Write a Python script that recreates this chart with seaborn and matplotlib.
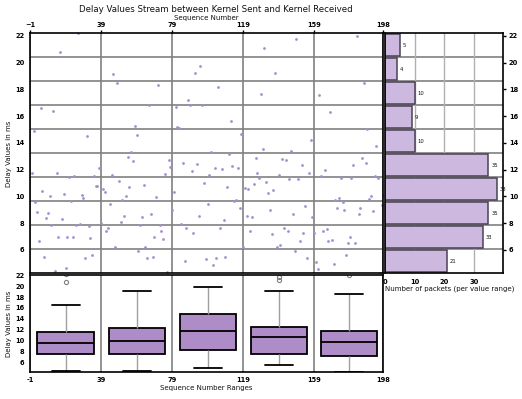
import matplotlib
matplotlib.use("Agg")
import matplotlib.pyplot as plt
import numpy as np
import pandas as pd
import seaborn as sns

# delay (ms) per sequence number, 0..199
delay_seg1 = [11.75, 14.9, 9.57, 8.82, 6.65, 16.6, 10.4, 5.48, 8.37, 8.75,
              10.03, 7.86, 16.37, 4.43, 11.78, 6.93, 20.78, 8.3, 10.2, 4.63,
              7.0, 11.45, 9.67, 7.0, 11.5, 7.9, 22.2, 7.95, 10.13, 9.85,
              5.38, 14.5, 7.77, 6.88, 5.6, 11.5, 10.8, 10.8, 12.1, 8.0]
delay_seg2 = [10.55, 10.3, 7.4, 7.65, 9.43, 11.63, 19.15, 6.23, 18.5, 11.15,
              8.12, 9.7, 8.57, 10.0, 12.93, 10.7, 13.3, 12.68, 15.25, 14.6,
              5.9, 7.86, 8.47, 10.85, 6.23, 5.37, 16.85, 8.7, 5.45, 6.98,
              9.98, 18.3, 7.86, 7.4, 6.83, 11.7, 4.37, 12.73, 12.2, 8.95]
delay_seg3 = [10.33, 16.7, 15.22, 15.15, 7.95, 12.5, 5.2, 7.65, 17.2, 16.85,
              11.93, 7.27, 19.2, 12.42, 8.57, 19.78, 16.87, 11.0, 5.3, 9.45,
              11.58, 13.3, 4.88, 12.13, 5.37, 18.2, 7.62, 12.03, 8.25, 5.5,
              10.7, 13.2, 15.65, 12.28, 9.65, 9.7, 12.15, 9.12, 14.7]
delay_seg4 = [6.25, 10.63, 8.5, 10.55, 7.4, 8.45, 10.95, 12.85, 11.75, 11.35,
              17.63, 13.55, 21.08, 11.1, 10.25, 8.98, 7.22, 10.5, 19.2, 6.25,
              11.6, 6.4, 12.8, 7.62, 12.73, 7.45, 11.33, 13.38, 8.7, 5.9,
              21.78, 11.33, 6.67, 12.35, 7.27, 9.3, 5.4, 11.73, 14.2, 8.45]
delay_seg5 = [7.23, 5.13, 4.58, 17.6, 11.5, 7.43, 12.0, 7.6, 6.68, 16.35,
              6.75, 4.98, 9.75, 9.15, 9.9, 11.4, 9.58, 8.95, 5.6, 6.55,
              6.98, 11.4, 12.37, 6.53, 21.98, 8.65, 9.15, 12.9, 18.5, 12.53,
              15.05, 9.83, 10.05, 8.93, 11.5, 13.75, 11.38, 4.25, 9.38, 10.1,
              12.3]

range_edges = [-1, 39, 79, 119, 159, 198]
n_bins = 10

delay = np.array(delay_seg1 + delay_seg2 + delay_seg3 + delay_seg4 + delay_seg5)
seq = np.arange(len(delay))
df = pd.DataFrame({"seq": seq, "delay": delay})

mids = [(a + b) / 2 for a, b in zip(range_edges[:-1], range_edges[1:])]
df["range_mid"] = pd.cut(df["seq"], bins=range_edges, labels=mids).astype(float)
df_box = df.dropna(subset=["range_mid"])

bin_edges = np.histogram_bin_edges(delay, bins=n_bins)

sns.set_style("white")
plt.rcParams["font.family"] = ["DejaVu Sans"]

GRID = "#808080"
TXT = "#111111"
LAB = 5
tick_kw = dict(labelsize=4.8, width=1, length=2.5, pad=1.5, colors="black")

fig = plt.figure(figsize=(5.22, 3.99), dpi=100)
ax_sc = fig.add_axes([0.0575, 0.315, 0.677, 0.6015])
ax_hist = fig.add_axes([0.7375, 0.315, 0.2266, 0.6015], sharey=ax_sc)
ax_box = fig.add_axes([0.0575, 0.0684, 0.677, 0.2416])

for ax in (ax_sc, ax_hist, ax_box):
    for sp in ax.spines.values():
        sp.set_visible(True)
        sp.set_color("black")
        sp.set_linewidth(1.2)
    ax.set_axisbelow(True)

# ── scatter stream ────────────────────────────────────────────────────────────
sns.scatterplot(data=df, x="seq", y="delay", ax=ax_sc, s=4,
                color="#A58ED0", linewidth=0, marker="o")
ax_sc.set_xlim(range_edges[0], range_edges[-1])
ax_sc.set_ylim(delay.min(), delay.max())
ax_sc.set_xticks(range_edges)
ax_sc.set_yticks(range(6, 23, 2))
ax_sc.xaxis.tick_top()
ax_sc.xaxis.set_label_position("top")
ax_sc.set_xlabel("Sequence Number", fontsize=LAB, color=TXT, labelpad=1)
ax_sc.set_ylabel("Delay Values in ms", fontsize=LAB, color=TXT, labelpad=2)
ax_sc.tick_params(axis="both", **tick_kw)
ax_sc.xaxis.grid(True, color=GRID, lw=1.2)
for e in bin_edges[1:-1]:
    ax_sc.axhline(e, color=GRID, lw=1.2, zorder=0)

# ── histogram ────────────────────────────────────────────────────────────────
sns.histplot(y=delay, bins=bin_edges, ax=ax_hist, color="#CDB9DF",
             edgecolor="#4A4252", linewidth=1.1, alpha=1, shrink=0.93)
ax_hist.bar_label(ax_hist.containers[0], fontsize=3.8, padding=2, color=TXT)
ax_hist.set_xlim(0, 40)
ax_hist.set_xticks([0, 10, 20, 30])
ax_hist.yaxis.tick_right()
ax_hist.tick_params(axis="both", **tick_kw)
ax_hist.tick_params(axis="y", labelright=True, labelleft=False)
ax_hist.set_ylabel("")
ax_hist.set_xlabel("Number of packets (per value range)", fontsize=LAB,
                   color=TXT, labelpad=0.5, loc="left")
ax_hist.xaxis.grid(True, color="#B0B0B0", lw=1)
for e in bin_edges[1:-1]:
    ax_hist.axhline(e, color=GRID, lw=1.2, zorder=0)

# ── boxplots per sequence range ───────────────────────────────────────────────
sns.boxplot(data=df_box, x="range_mid", y="delay", ax=ax_box,
            native_scale=True, width=0.8, color="#AE8CC8", saturation=1,
            linecolor="black", linewidth=1.3,
            whiskerprops={"color": "#A0A0A0", "linewidth": 1},
            flierprops={"marker": "o", "markerfacecolor": "none",
                        "markeredgecolor": "#808080", "markersize": 3,
                        "markeredgewidth": 0.8})
ax_box.set_xlim(range_edges[0], range_edges[-1])
ax_box.set_ylim(delay.min(), 22)
ax_box.set_xticks(range_edges)
ax_box.set_xticklabels([str(v) for v in range_edges])
ax_box.set_yticks(range(6, 23, 2))
ax_box.tick_params(axis="both", **tick_kw)
ax_box.xaxis.grid(True, color=GRID, lw=1.2)
ax_box.set_xlabel("Sequence Number Ranges", fontsize=LAB, color=TXT, labelpad=1.5)
ax_box.set_ylabel("Delay Values in ms", fontsize=LAB, color=TXT, labelpad=2)

for ax in (ax_sc, ax_hist, ax_box):
    for lab in ax.get_xticklabels() + ax.get_yticklabels():
        lab.set_fontweight("bold")

fig.text(0.414, 0.975, "Delay Values Stream between Kernel Sent and Kernel Received",
         ha="center", va="center", fontsize=6.2, color=TXT)

fig.savefig("out.png", dpi=100)
